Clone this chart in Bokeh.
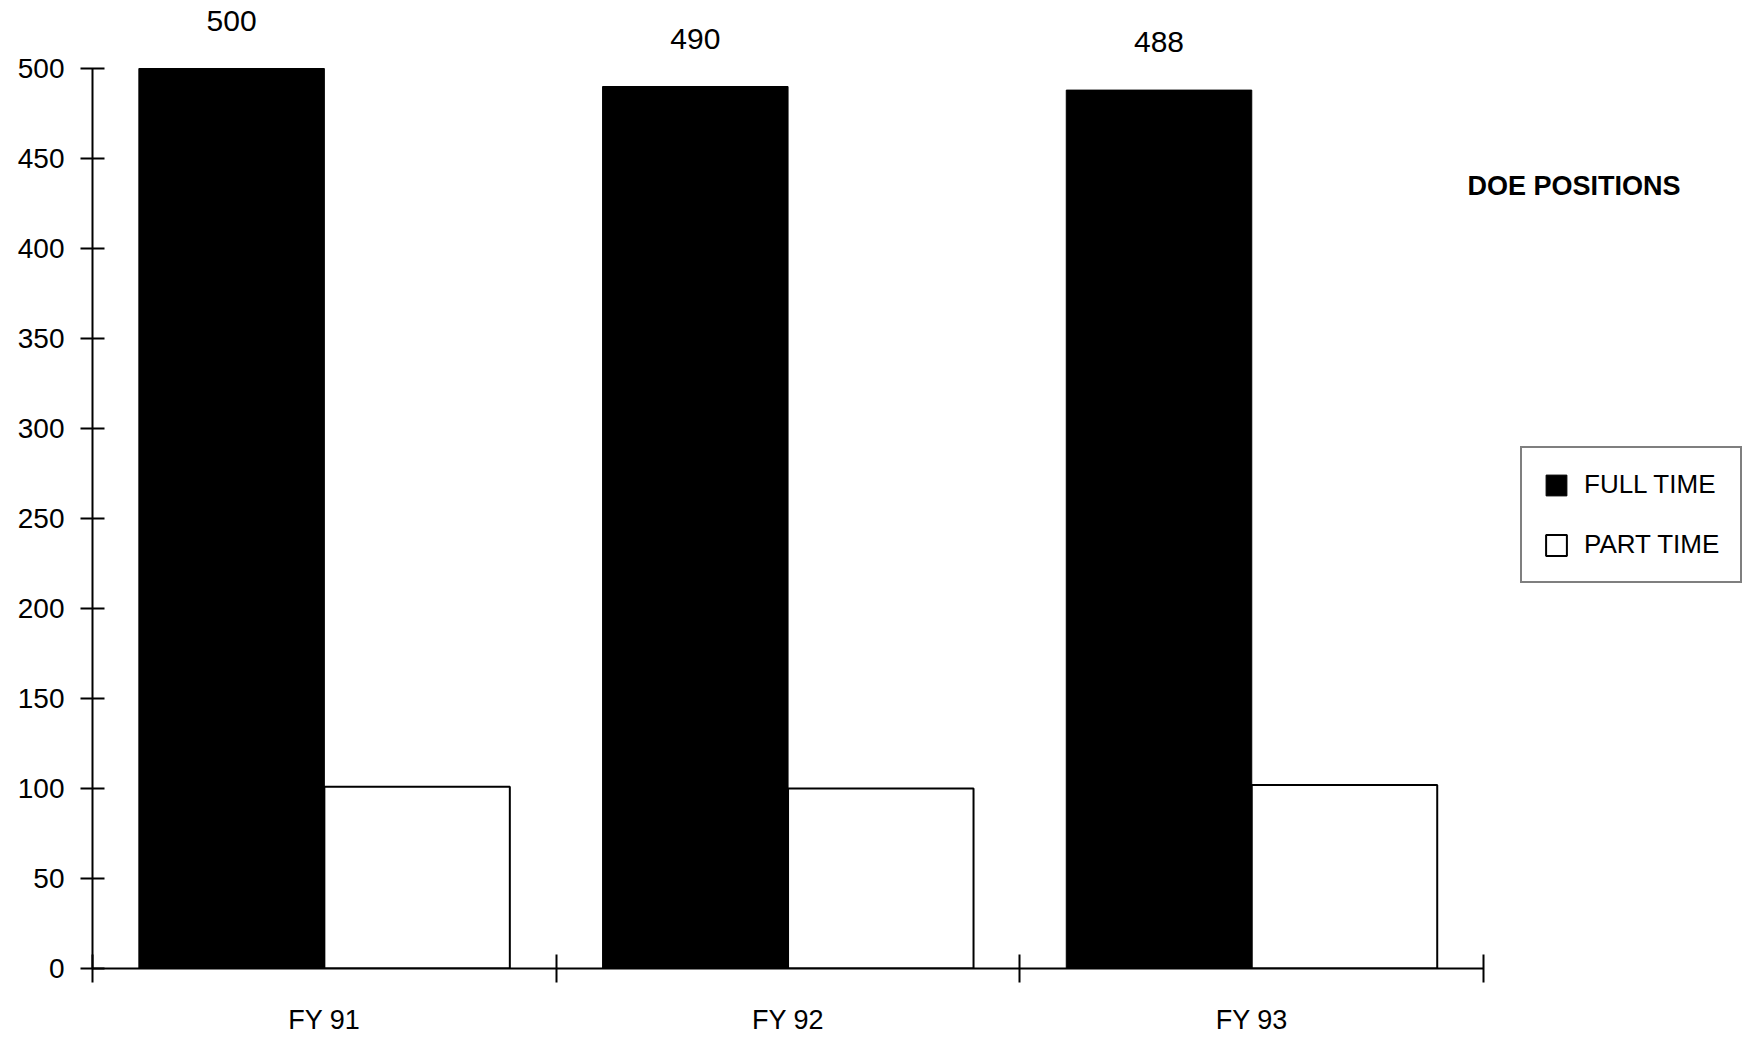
from bokeh.plotting import figure
from bokeh.models import Range1d, FixedTicker, Legend, LegendItem, Label, LabelSet, ColumnDataSource
from bokeh.embed import file_html
from bokeh.resources import INLINE
from bokeh.core.properties import value

# ---- data ----
categories = ["FY 91", "FY 92", "FY 93"]
full_time = [500, 490, 488]
part_time = [101, 100, 102]
series_names = ["FULL TIME", "PART TIME"]
y_ticks = [0, 50, 100, 150, 200, 250, 300, 350, 400, 450, 500]
chart_title = "DOE POSITIONS"

# ---- layout ----
W, H = 1742, 1038
LEFT, BOTTOM = 92, 70
FRAME_W = W - LEFT
FRAME_H = H - BOTTOM
CAT_PX = 463.7          # pixels per category
Y_PX = 1.8              # pixels per unit
FONT = "Liberation Sans"

def sx_to_data(px):
    return (px - LEFT) / CAT_PX

def sy_to_data(py):
    return (FRAME_H - py) / Y_PX

p = figure(width=W, height=H,
           x_range=Range1d(0, FRAME_W / CAT_PX),
           y_range=Range1d(0, FRAME_H / Y_PX),
           output_backend="svg", toolbar_location=None,
           min_border_left=LEFT, min_border_right=0,
           min_border_top=0, min_border_bottom=BOTTOM)
p.outline_line_color = None
p.xgrid.visible = False
p.ygrid.visible = False
p.background_fill_color = "white"
p.border_fill_color = "white"

idx = list(range(len(categories)))
x_full = [i + 0.3 for i in idx]
x_part = [i + 0.7 for i in idx]
centers = [i + 0.5 for i in idx]
bounds = list(range(len(categories) + 1))

r_full = p.vbar(x=x_full, top=full_time, bottom=0, width=0.4,
                fill_color="black", line_color="black", line_width=1)
r_part = p.vbar(x=x_part, top=part_time, bottom=0, width=0.4,
                fill_color="white", line_color="black", line_width=2)

# value labels above the full-time bars
val_src = ColumnDataSource(dict(x=x_full, y=full_time, t=[str(v) for v in full_time]))
p.add_layout(LabelSet(x="x", y="y", text="t", source=val_src, y_offset=48,
                      text_align="center", text_baseline="middle",
                      text_font=value(FONT), text_font_size=value("30px"),
                      text_color="black"))

# y axis
ya = p.yaxis[0]
ya.ticker = FixedTicker(ticks=y_ticks)
ya.bounds = (0, 500)
ya.axis_line_width = 2
ya.axis_line_color = "black"
ya.major_tick_in = 12
ya.major_tick_out = 12
ya.major_tick_line_width = 2
ya.major_tick_line_color = "black"
ya.minor_tick_line_color = None
ya.major_label_standoff = 16
ya.major_label_text_font = FONT
ya.major_label_text_font_size = "28px"
ya.major_label_text_color = "black"

# x axis: labels at category centres, tick marks at category boundaries
xa = p.xaxis[0]
xa.ticker = FixedTicker(ticks=centers, minor_ticks=bounds)
xa.major_label_overrides = {c: lab for c, lab in zip(centers, categories)}
xa.bounds = (0, len(categories))
xa.axis_line_width = 2
xa.axis_line_color = "black"
xa.major_tick_in = 0
xa.major_tick_out = 0
xa.minor_tick_in = 14
xa.minor_tick_out = 14
xa.minor_tick_line_width = 2
xa.minor_tick_line_color = "black"
xa.major_label_standoff = 22
xa.major_label_text_font = FONT
xa.major_label_text_font_size = "27px"
xa.major_label_text_color = "black"

# title
p.add_layout(Label(x=sx_to_data(1467), y=sy_to_data(185), text=chart_title,
                   text_font=FONT, text_font_style="bold", text_font_size="27px",
                   text_align="left", text_baseline="middle", text_color="black"))

# legend
legend = Legend(items=[LegendItem(label=series_names[0], renderers=[r_full]),
                       LegendItem(label=series_names[1], renderers=[r_part])],
                location=(1520 - LEFT, FRAME_H - 583),
                glyph_width=26, glyph_height=26, label_standoff=15,
                label_height=29,
                padding=21, spacing=29, margin=0,
                label_text_font=FONT, label_text_font_size="26px",
                label_text_color="black",
                border_line_color="black", border_line_width=2,
                background_fill_color="white", background_fill_alpha=1)
p.add_layout(legend)

open("out.html", "w").write(file_html(p, INLINE))
